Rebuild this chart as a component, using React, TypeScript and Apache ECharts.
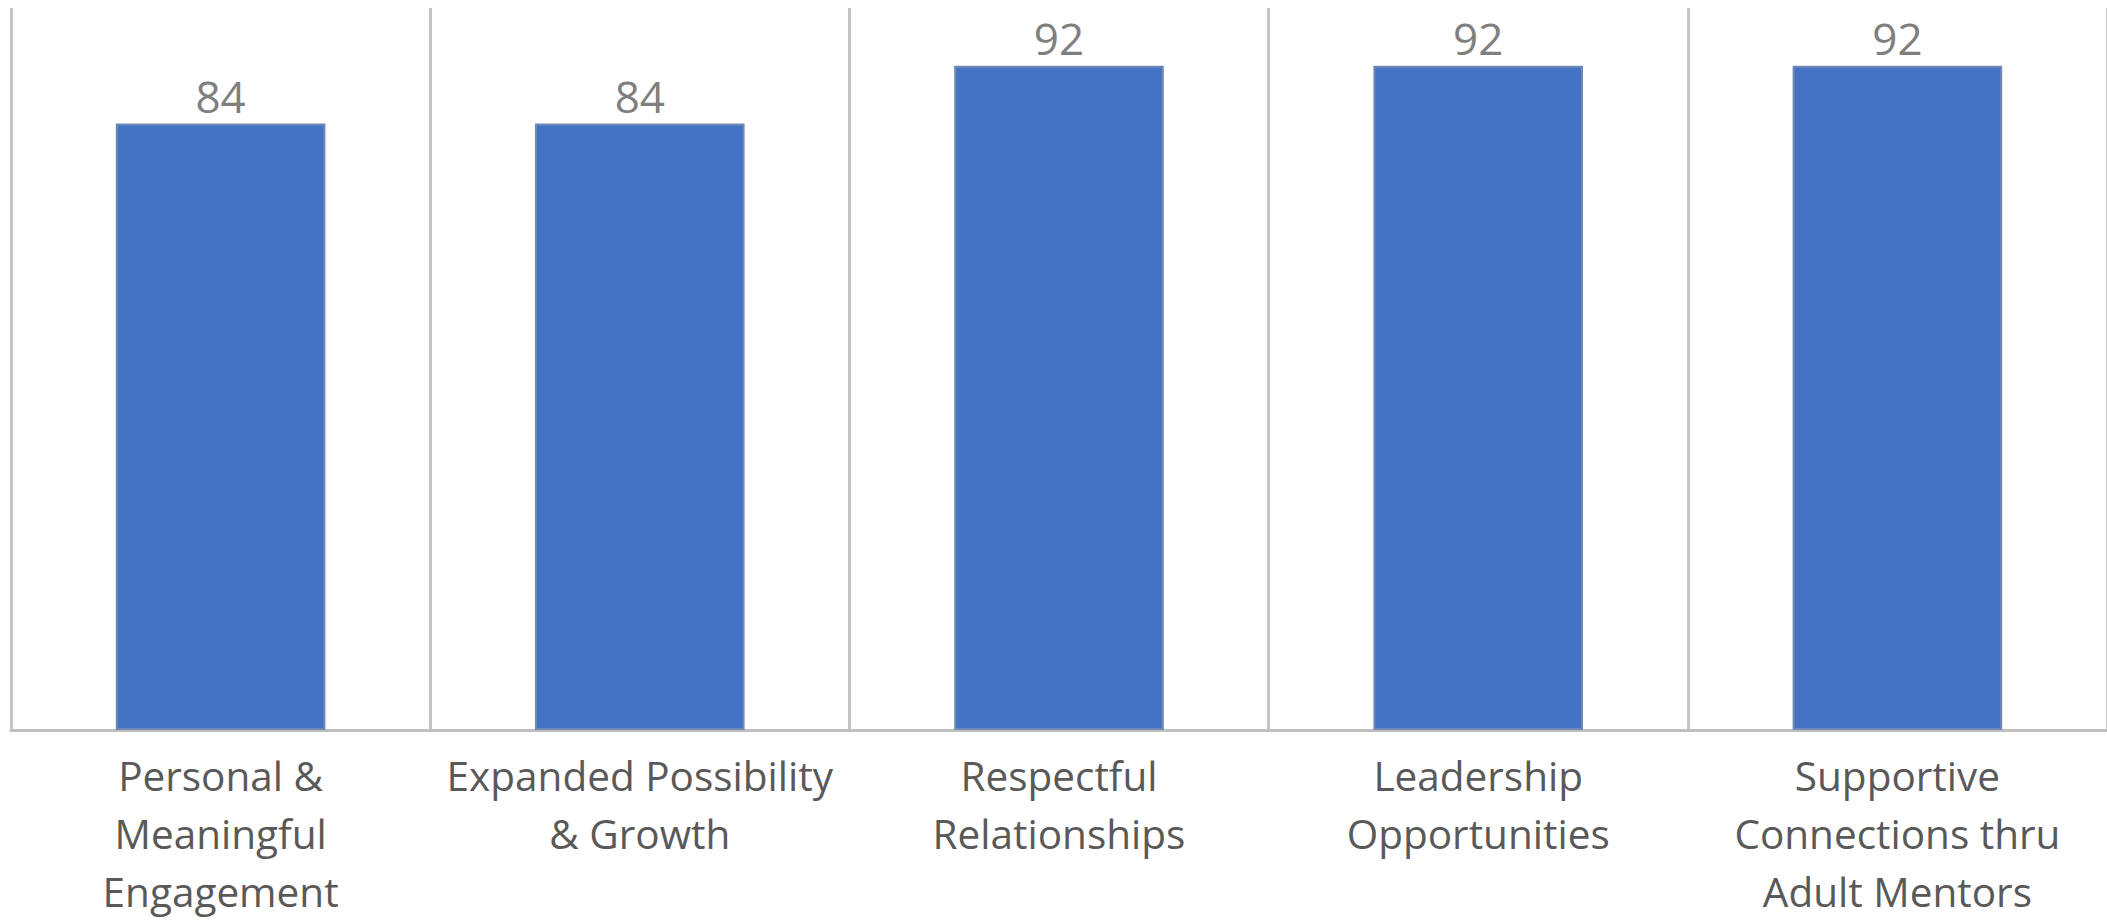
import React, { useEffect, useRef } from "react";
import * as echarts from "echarts";

const categories = [
  "Personal &\nMeaningful\nEngagement",
  "Expanded Possibility\n& Growth",
  "Respectful\nRelationships",
  "Leadership\nOpportunities",
  "Supportive\nConnections thru\nAdult Mentors",
];
const values = [84, 84, 92, 92, 92];
const yMin = 0;
const yMax = 100;

export default function App() {
  const ref = useRef<HTMLDivElement>(null);
  useEffect(() => {
    if (!ref.current) return;
    const chart = echarts.init(ref.current, undefined, { renderer: "svg" });
    chart.setOption({
      animation: false,
      backgroundColor: "#ffffff",
      grid: { left: 11, right: 0, top: 8, bottom: 184, containLabel: false },
      xAxis: {
        type: "category",
        data: categories,
        boundaryGap: true,
        axisLine: { show: true, lineStyle: { color: "#bfbfbf", width: 3 } },
        axisTick: { show: false },
        splitLine: { show: true, lineStyle: { color: "#c4c4c4", width: 3 } },
        axisLabel: {
          interval: 0,
          margin: 16,
          color: "#595959",
          fontFamily: "Open Sans",
          fontSize: 40.5,
          lineHeight: 58,
          align: "center",
        },
      },
      yAxis: {
        type: "value",
        min: yMin,
        max: yMax,
        show: false,
        splitLine: { show: false },
      },
      series: [
        {
          type: "bar",
          data: values,
          barWidth: "50%",
          itemStyle: { color: "#4472c4", borderColor: "#6f88b6", borderWidth: 2 },
          label: {
            show: true,
            position: "top",
            distance: 6,
            color: "#7f7f7f",
            fontFamily: "Open Sans",
            fontSize: 44,
          },
        },
      ],
    });
    return () => chart.dispose();
  }, []);
  return (
    <div
      ref={ref}
      style={{ position: "absolute", left: 0, top: 0, width: 2107, height: 920 }}
    />
  );
}
